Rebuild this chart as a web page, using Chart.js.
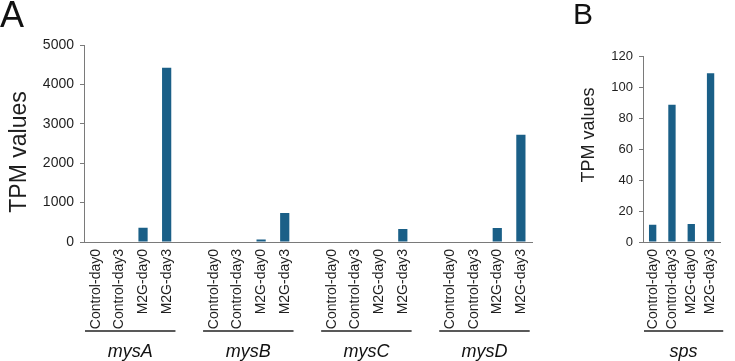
<!DOCTYPE html>
<html lang="en">
<head>
    <meta charset="UTF-8">
    <title>TPM values</title>
    <script src="https://cdn.jsdelivr.net/npm/chart.js"></script>
    <style>
        body { margin: 0; background: #fff; }
        #wrap { position: relative; width: 735px; height: 361px; }
        canvas { position: absolute; top: 0; }
    </style>
</head>
<body>
<div id="wrap">
    <canvas id="panel-a" width="545" height="361" style="left:0"></canvas>
    <canvas id="panel-b" width="190" height="361" style="left:545px"></canvas>
</div>

<script>
    const conditions = ['Control-day0', 'Control-day3', 'M2G-day0', 'M2G-day3'];
    const genesA = ['mysA', 'mysB', 'mysC', 'mysD'];
    const mysA = [0, 0, 362, 4420];
    const mysB = [0, 0, 66, 736];
    const mysC = [0, 0, 15, 330];
    const mysD = [0, 0, 355, 2723];
    const sps = [11.1, 88.5, 11.6, 108.8];
    const ticksA = [0, 1000, 2000, 3000, 4000, 5000];
    const ticksB = [0, 20, 40, 60, 80, 100, 120];

    const FONT = "'Liberation Sans', Arial, sans-serif";
    const BAR = '#1a5f87';
    const AXIS = '#7a7a7a';
    const TEXT = '#1e1e1e';

    // panel A: 4 groups, one empty slot between groups
    const valuesA = [mysA, mysB, mysC, mysD];
    let labelsA = [];
    let dataA = [];
    let groupsA = [];
    valuesA.forEach((vals, g) => {
        if (g > 0) { labelsA.push(''); dataA.push(null); }
        groupsA.push({ name: genesA[g], from: labelsA.length, to: labelsA.length + 3 });
        conditions.forEach((c, i) => { labelsA.push(c); dataA.push(vals[i]); });
    });

    const decor = {
        id: 'decor',
        afterDraw(chart, args, o) {
            const ctx = chart.ctx;
            const x = chart.scales.x;
            const slot = x.getPixelForValue(1) - x.getPixelForValue(0);
            ctx.save();
            ctx.fillStyle = '#111';
            ctx.font = o.letterSize + 'px ' + FONT;
            ctx.textAlign = 'left';
            ctx.textBaseline = 'alphabetic';
            ctx.fillText(o.letter, o.letterX, o.letterY);

            ctx.save();
            ctx.translate(o.titleX, o.titleY);
            ctx.rotate(-Math.PI / 2);
            ctx.font = o.titleSize + 'px ' + FONT;
            ctx.textAlign = 'center';
            ctx.textBaseline = 'middle';
            ctx.fillStyle = TEXT;
            ctx.fillText('TPM values', 0, 0);
            ctx.restore();

            o.groups.forEach(gr => {
                const x1 = x.getPixelForValue(gr.from) - slot / 2 + o.ext[0];
                const x2 = x.getPixelForValue(gr.to) + slot / 2 + o.ext[1];
                ctx.strokeStyle = '#222';
                ctx.lineWidth = 1.3;
                ctx.beginPath();
                ctx.moveTo(x1, 331);
                ctx.lineTo(x2, 331);
                ctx.stroke();
                ctx.font = 'italic 18px ' + FONT;
                ctx.fillStyle = '#111';
                ctx.textAlign = 'center';
                ctx.textBaseline = 'middle';
                ctx.fillText(gr.name, (x1 + x2) / 2, 352);
            });
            ctx.restore();
        }
    };

    function makeChart(id, labels, data, opts) {
        return new Chart(document.getElementById(id).getContext('2d'), {
            type: 'bar',
            data: {
                labels: labels,
                datasets: [{
                    data: data,
                    backgroundColor: BAR,
                    barPercentage: opts.barPct,
                    categoryPercentage: 1
                }]
            },
            options: {
                responsive: false,
                animation: false,
                devicePixelRatio: 1,
                layout: { padding: { left: 0, right: opts.padRight, top: opts.padTop, bottom: 0 } },
                plugins: {
                    legend: { display: false },
                    tooltip: { enabled: false },
                    decor: opts.decor
                },
                scales: {
                    x: {
                        grid: { display: false, drawTicks: false },
                        border: { display: true, color: AXIS, width: 1 },
                        ticks: {
                            autoSkip: false,
                            minRotation: 90,
                            maxRotation: 90,
                            padding: 7,
                            color: TEXT,
                            font: { family: FONT, size: 14 }
                        },
                        afterFit: s => { s.height = 119; }
                    },
                    y: {
                        min: 0,
                        max: opts.ticks[opts.ticks.length - 1],
                        afterBuildTicks: s => { s.ticks = opts.ticks.map(v => ({ value: v })); },
                        grid: { display: true, drawOnChartArea: false, drawTicks: true, tickLength: 4, color: AXIS },
                        border: { display: true, color: AXIS, width: 1 },
                        ticks: {
                            padding: 6,
                            color: TEXT,
                            font: { family: FONT, size: opts.tickSize },
                            callback: v => String(v)
                        },
                        afterFit: s => { s.width = opts.yWidth; }
                    }
                }
            },
            plugins: [decor]
        });
    }

    makeChart('panel-a', labelsA, dataA, {
        barPct: 0.39, padRight: 12, padTop: 45, yWidth: 84, ticks: ticksA, tickSize: 14,
        decor: {
            letter: 'A', letterSize: 36, letterX: 0, letterY: 27,
            titleX: 20, titleY: 152, titleSize: 23,
            groups: groupsA, ext: [1, -3]
        }
    });

    makeChart('panel-b', conditions, sps, {
        barPct: 0.38, padRight: 5, padTop: 56, yWidth: 98, ticks: ticksB, tickSize: 13,
        decor: {
            letter: 'B', letterSize: 30, letterX: 28, letterY: 24,
            titleX: 44, titleY: 135, titleSize: 18,
            groups: [{ name: 'sps', from: 0, to: 3 }], ext: [1, 3]
        }
    });
</script>
</body>
</html>
